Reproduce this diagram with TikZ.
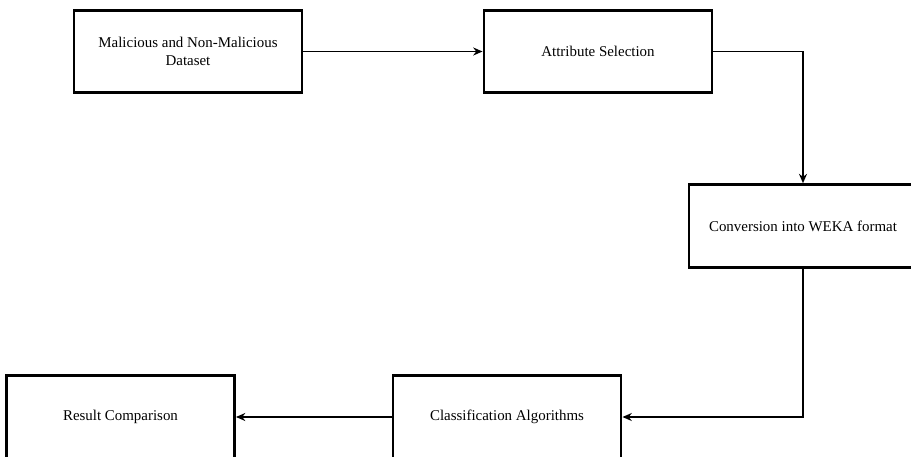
\documentclass[tikz,border=0pt]{standalone}
\usepackage{fontspec}
\setmainfont{Liberation Serif}
\usetikzlibrary{arrows.meta}
\tikzset {>={Stealth[length=7pt,width=6pt]}}
\tikzset{stage/.style={draw,line width=2.2pt,minimum width=171pt,minimum height=62pt,
  align=center,font=\fontsize{11.2}{13}\selectfont,inner sep=2pt}}

\begin{document}
\begin{tikzpicture}[x=0.75pt,y=-0.75pt]
\useasboundingbox (0,0) rectangle (911,457);
\node[stage] (dataset) at (188,51.5) {Malicious and Non-Malicious\\Dataset};
\node[stage] (attrsel) at (598,51.5) {Attribute Selection};
\node[stage] (weka) at (803,226) {Conversion into WEKA format};
\node[stage] (classify) at (507,417) {Classification Algorithms};
\node[stage] (result) at (120.5,417) {Result Comparison};
\draw[->,line width=1.4pt] (dataset) -- (attrsel);
\draw[->,line width=1.4pt] (attrsel) -| (weka);
\draw[->,line width=1.4pt] (weka) |- (classify);
\draw[->,line width=1.4pt] (classify) -- (result);
\end{tikzpicture}
\end{document}
